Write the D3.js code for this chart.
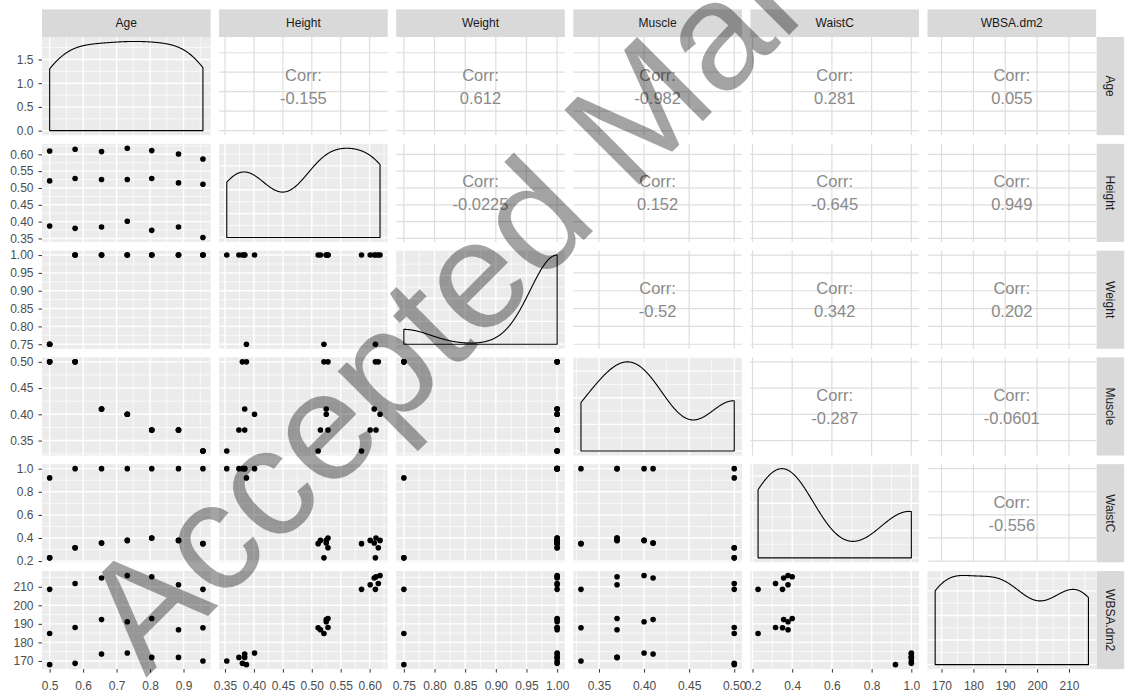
<!DOCTYPE html>
<html><head><meta charset="utf-8">
<script src="https://cdn.jsdelivr.net/npm/d3@7"></script>
<style>
body{margin:0;background:#fff}
svg{display:block}
text{font-family:"Liberation Sans",Arial,sans-serif}
</style>
</head><body>
<svg id="chart" width="1125" height="695"></svg>
<script>
// ---------------- data ----------------
const variables = ["Age", "Height", "Weight", "Muscle", "WaistC", "WBSA.dm2"];

// 21 observations: 7 ages x 3 height groups (low, mid, high)
const Age = [0.5,0.5,0.5, 0.576,0.576,0.576, 0.655,0.655,0.655, 0.732,0.732,0.732,
             0.805,0.805,0.805, 0.885,0.885,0.885, 0.958,0.958,0.958];
const Height = [0.387,0.521,0.610, 0.380,0.528,0.615, 0.384,0.525,0.608, 0.401,0.525,0.618,
                0.374,0.528,0.611, 0.384,0.515,0.601, 0.353,0.511,0.586];
const Weight = [0.75,0.75,0.75, 1,1,1, 1,1,1, 1,1,1, 1,1,1, 1,1,1, 1,1,1];
const Muscle = [0.5,0.5,0.5, 0.5,0.5,0.5, 0.41,0.41,0.41, 0.40,0.40,0.40,
                0.37,0.37,0.37, 0.37,0.37,0.37, 0.33,0.33,0.33];
const WaistC = [0.92,0.228,0.228, 1,0.316,0.316, 1,0.357,0.357, 1,0.379,0.379,
                1,0.40,0.40, 1,0.379,0.379, 1,0.351,0.351];
const WBSA = [168.0,184.8,208.6, 168.7,188.0,211.8, 173.7,192.3,214.7, 174.3,191.1,216.1,
              171.9,192.9,215.4, 171.9,186.8,211.1, 170.0,187.9,208.6];

// correlation labels of the upper panels, row by row
const corrAge    = ["-0.155", "0.612", "-0.982", "0.281", "0.055"];
const corrHeight = ["-0.0225", "0.152", "-0.645", "0.949"];
const corrWeight = ["-0.52", "0.342", "0.202"];
const corrMuscle = ["-0.287", "-0.0601"];
const corrWaistC = ["-0.556"];

// tick values and labels
const ticksAge    = [0.5, 0.6, 0.7, 0.8, 0.9];
const ticksHeight = [0.35, 0.40, 0.45, 0.50, 0.55, 0.60];
const ticksWeight = [0.75, 0.80, 0.85, 0.90, 0.95, 1.00];
const ticksMuscle = [0.35, 0.40, 0.45, 0.50];
const ticksWaistC = [0.2, 0.4, 0.6, 0.8, 1.0];
const ticksWBSA   = [170, 180, 190, 200, 210];
const labelsAge    = ["0.5","0.6","0.7","0.8","0.9"];
const labelsHeight = ["0.35","0.40","0.45","0.50","0.55","0.60"];
const labelsWeight = ["0.75","0.80","0.85","0.90","0.95","1.00"];
const labelsMuscle = ["0.35","0.40","0.45","0.50"];
const labelsWaistC = ["0.2","0.4","0.6","0.8","1.0"];
const labelsWBSA   = ["170","180","190","200","210"];
const ticksAgeDensity  = [0.0, 0.5, 1.0, 1.5];
const labelsAgeDensity = ["0.0","0.5","1.0","1.5"];

const watermark = "Accepted Manuscript";

// ---------------- layout ----------------
const W = 1125, H = 695;
const PL = 42, PW = 168.6, PS = 177.1;
const PT = 37, PH = 98.1, PVS = 106.8;
const STRIP = 27.6;

const series = [Age, Height, Weight, Muscle, WaistC, WBSA];
const ticks = [ticksAge, ticksHeight, ticksWeight, ticksMuscle, ticksWaistC, ticksWBSA];
const labels = [labelsAge, labelsHeight, labelsWeight, labelsMuscle, labelsWaistC, labelsWBSA];
const corr = [corrAge, corrHeight, corrWeight, corrMuscle, corrWaistC];
const n = variables.length;

const svg = d3.select("#chart");
svg.append("rect").attr("width", W).attr("height", H).attr("fill", "#fff");

function expandDomain(v) {
  const e = d3.extent(v), r = e[1] - e[0];
  return [e[0] - 0.05 * r, e[1] + 0.05 * r];
}
const domains = series.map(expandDomain);
const px = j => PL + j * PS;
const py = i => PT + i * PVS;
const xScale = j => d3.scaleLinear().domain(domains[j]).range([px(j), px(j) + PW]);
const yScale = i => d3.scaleLinear().domain(domains[i]).range([py(i) + PH, py(i)]);

function minorOf(t, dom) {
  const step = t[1] - t[0], out = [];
  const cand = [t[0] - step / 2, ...t.slice(1).map((d, k) => (d + t[k]) / 2), t[t.length - 1] + step / 2];
  cand.forEach(c => { if (c >= dom[0] && c <= dom[1]) out.push(c); });
  return out;
}

// kernel density (gaussian, bw.nrd0) as ggplot's stat_density
function bwNrd0(x) {
  const s = d3.deviation(x);
  const sorted = x.slice().sort(d3.ascending);
  const iqr = d3.quantileSorted(sorted, 0.75) - d3.quantileSorted(sorted, 0.25);
  let lo = Math.min(s, iqr / 1.34);
  if (!lo) lo = s || Math.abs(x[0]) || 1;
  return 0.9 * lo * Math.pow(x.length, -0.2);
}
function kde(x) {
  const bw = bwNrd0(x), [a, b] = d3.extent(x), m = 512, out = [];
  for (let k = 0; k < m; k++) {
    const t = a + (b - a) * k / (m - 1);
    let s = 0;
    for (const v of x) { const z = (t - v) / bw; s += Math.exp(-0.5 * z * z); }
    out.push([t, s / (x.length * bw * Math.sqrt(2 * Math.PI))]);
  }
  return out;
}

const gPanels = svg.append("g");

for (let i = 0; i < n; i++) {
  for (let j = 0; j < n; j++) {
    const g = gPanels.append("g");
    const x = xScale(j);
    const x0 = px(j), y0 = py(i);
    if (j > i) {
      // upper: correlation text
      const y = yScale(i);
      g.append("rect").attr("x", x0).attr("y", y0).attr("width", PW).attr("height", PH).attr("fill", "#fff");
      ticks[j].forEach(t => { const xx = x(t); if (xx >= x0 && xx <= x0 + PW)
        g.append("line").attr("x1", xx).attr("x2", xx).attr("y1", y0).attr("y2", y0 + PH)
          .attr("stroke", "#dedede").attr("stroke-width", 1.2); });
      ticks[i].forEach(t => { const yy = y(t); if (yy >= y0 && yy <= y0 + PH)
        g.append("line").attr("x1", x0).attr("x2", x0 + PW).attr("y1", yy).attr("y2", yy)
          .attr("stroke", "#dedede").attr("stroke-width", 1.2); });
      const cx = x0 + PW / 2, cy = y0 + PH / 2;
      g.append("text").attr("x", cx).attr("y", cy - 11.5).attr("text-anchor", "middle")
        .attr("dominant-baseline", "central").attr("font-size", 16.5).attr("fill", "#8a8a8a").text("Corr:");
      g.append("text").attr("x", cx).attr("y", cy + 11.5).attr("text-anchor", "middle")
        .attr("dominant-baseline", "central").attr("font-size", 16.5).attr("fill", "#8a8a8a").text(corr[i][j - i - 1]);
      continue;
    }
    // lower / diagonal: grey panel
    g.append("rect").attr("x", x0).attr("y", y0).attr("width", PW).attr("height", PH).attr("fill", "#ebebeb");
    let y, yTicks;
    let dens = null;
    if (i === j) {
      dens = kde(series[j]);
      const mx = d3.max(dens, d => d[1]);
      y = d3.scaleLinear().domain([-0.05 * mx, 1.05 * mx]).range([y0 + PH, y0]);
      yTicks = (i === 0) ? ticksAgeDensity : d3.ticks(0, mx, 4);
    } else {
      y = yScale(i);
      yTicks = ticks[i];
    }
    const xMin = minorOf(ticks[j], domains[j]);
    const yMin = minorOf(yTicks, y.domain());
    xMin.forEach(t => g.append("line").attr("x1", x(t)).attr("x2", x(t)).attr("y1", y0).attr("y2", y0 + PH)
      .attr("stroke", "#fff").attr("stroke-width", 0.7));
    yMin.forEach(t => g.append("line").attr("x1", x0).attr("x2", x0 + PW).attr("y1", y(t)).attr("y2", y(t))
      .attr("stroke", "#fff").attr("stroke-width", 0.7));
    ticks[j].forEach(t => g.append("line").attr("x1", x(t)).attr("x2", x(t)).attr("y1", y0).attr("y2", y0 + PH)
      .attr("stroke", "#fff").attr("stroke-width", 1.4));
    yTicks.forEach(t => { if (y(t) >= y0 && y(t) <= y0 + PH)
      g.append("line").attr("x1", x0).attr("x2", x0 + PW).attr("y1", y(t)).attr("y2", y(t))
        .attr("stroke", "#fff").attr("stroke-width", 1.4); });
    if (dens) {
      const [a, b] = d3.extent(series[j]);
      const pts = [[a, 0], ...dens, [b, 0]];
      const line = d3.line().x(d => x(d[0])).y(d => y(d[1]));
      g.append("path").attr("d", line(pts) + "Z").attr("fill", "none")
        .attr("stroke", "#000").attr("stroke-width", 1.1).attr("stroke-linejoin", "round");
    } else {
      series[j].forEach((v, k) => {
        g.append("circle").attr("cx", x(v)).attr("cy", y(series[i][k])).attr("r", 2.8).attr("fill", "#000");
      });
    }
  }
}

// ---------------- axes ----------------
function styleAxis(sel) {
  sel.select(".domain").remove();
  sel.selectAll(".tick line").attr("stroke", "#333").attr("stroke-width", 1);
  sel.selectAll(".tick text").attr("fill", "#4d4d4d").attr("font-size", 12)
    .attr("font-family", '"Liberation Sans",Arial,sans-serif');
}
for (let i = 0; i < n; i++) {
  let sc, tv, lb;
  if (i === 0) {
    const dens = kde(series[0]);
    const mx = d3.max(dens, d => d[1]);
    sc = d3.scaleLinear().domain([-0.05 * mx, 1.05 * mx]).range([py(0) + PH, py(0)]);
    tv = ticksAgeDensity; lb = labelsAgeDensity;
  } else { sc = yScale(i); tv = ticks[i]; lb = labels[i]; }
  const ax = d3.axisLeft(sc).tickValues(tv).tickFormat((d, k) => lb[k]).tickSize(3.5).tickPadding(5);
  svg.append("g").attr("transform", `translate(${PL},0)`).call(ax).call(styleAxis);
}
const bottom = py(n - 1) + PH;
for (let j = 0; j < n; j++) {
  const ax = d3.axisBottom(xScale(j)).tickValues(ticks[j]).tickFormat((d, k) => labels[j][k]).tickSize(3.5).tickPadding(9);
  svg.append("g").attr("transform", `translate(0,${bottom})`).call(ax).call(styleAxis);
}

// ---------------- strips ----------------
const stripTop = PT - STRIP;
variables.forEach((v, j) => {
  svg.append("rect").attr("x", px(j)).attr("y", stripTop).attr("width", PW).attr("height", STRIP).attr("fill", "#d9d9d9");
  svg.append("text").attr("x", px(j) + PW / 2).attr("y", stripTop + STRIP / 2).attr("text-anchor", "middle")
    .attr("dominant-baseline", "central").attr("font-size", 12).attr("fill", "#1a1a1a").text(v);
  const sx = px(n - 1) + PW + 0.5;
  svg.append("rect").attr("x", sx).attr("y", py(j)).attr("width", STRIP).attr("height", PH).attr("fill", "#d9d9d9");
  svg.append("text").attr("transform", `translate(${sx + STRIP / 2},${py(j) + PH / 2}) rotate(90)`)
    .attr("text-anchor", "middle").attr("dominant-baseline", "central").attr("font-size", 12)
    .attr("fill", "#1a1a1a").text(v);
});

// ---------------- watermark ----------------
svg.append("text").attr("transform", "translate(146,678) rotate(-45)")
  .attr("font-size", 154).attr("fill", "#000").attr("fill-opacity", 0.36).text(watermark);
</script>
</body></html>
